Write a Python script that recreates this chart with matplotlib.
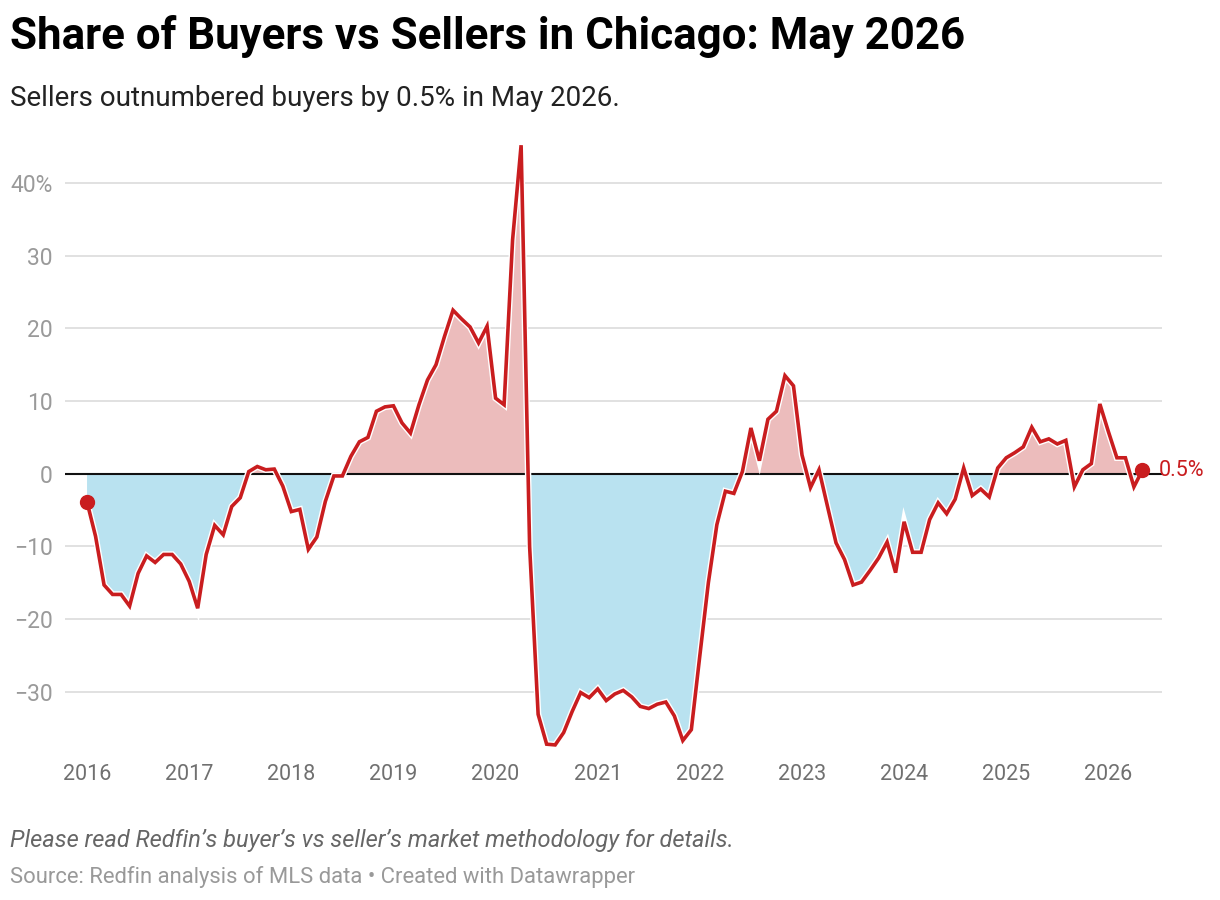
import numpy as np
import matplotlib
matplotlib.use("Agg")
import matplotlib.pyplot as plt
import matplotlib.patheffects as pe

plt.rcParams['font.family'] = ['Roboto', 'DejaVu Sans']

# monthly share, Jan 2016 .. May 2026 (positive = sellers outnumber buyers)
y2016 = [-3.9, -8.6, -15.3, -16.6, -16.6, -18.2, -13.7, -11.3, -12.2, -11.1, -11.1, -12.4]
y2017 = [-14.8, -18.5, -11.1, -7.1, -8.4, -4.5, -3.3, 0.3, 1.0, 0.55, 0.65, -1.7]
y2018 = [-5.2, -4.9, -10.4, -8.7, -3.8, -0.3, -0.3, 2.4, 4.4, 5.0, 8.6, 9.2]
y2019 = [9.35, 7.0, 5.6, 9.5, 12.9, 15.0, 18.9, 22.5, 21.3, 20.2, 18.0, 20.3]
y2020 = [10.4, 9.5, 32.2, 45.2, -10.0, -33.1, -37.2, -37.3, -35.6, -32.7, -30.1, -30.8]
y2021 = [-29.6, -31.2, -30.3, -29.8, -30.7, -32.0, -32.3, -31.7, -31.4, -33.3, -36.7, -35.2]
y2022 = [-25.0, -15.0, -7.0, -2.4, -2.7, 0.3, 6.3, 1.8, 7.5, 8.6, 13.5, 12.1]
y2023 = [2.6, -1.9, 0.55, -4.5, -9.5, -11.8, -15.3, -14.9, -13.3, -11.6, -9.4, -13.6]
y2024 = [-6.6, -10.8, -10.8, -6.3, -4.0, -5.5, -3.5, 0.8, -3.0, -2.1, -3.2, 0.8]
y2025 = [2.2, 2.9, 3.7, 6.4, 4.4, 4.8, 4.1, 4.6, -1.8, 0.55, 1.4, 9.6]
y2026 = [5.8, 2.2, 2.2, -1.8, 0.5]

values = np.array(y2016 + y2017 + y2018 + y2019 + y2020 + y2021 +
                  y2022 + y2023 + y2024 + y2025 + y2026)
months = np.arange(len(values))

years = list(range(2016, 2027))
yticks = [-30, -20, -10, 0, 10, 20, 30, 40]
ylabels = ['\u221230', '\u221220', '\u221210', '0', '10', '20', '30', '40%']

red = '#c91d1f'
fig = plt.figure(figsize=(12.2, 9), dpi=100)
ax = fig.add_axes([65/1220, 1 - 750/900, (1162-65)/1220, (750-139.4)/900])

ax.fill_between(months, values, 0, where=values >= 0, interpolate=True,
                color='#ecbcbc', lw=0)
ax.fill_between(months, values, 0, where=values <= 0, interpolate=True,
                color='#b9e2f0', lw=0)
for yt in yticks:
    if yt != 0:
        ax.axhline(yt, color='#dedede', lw=1.3, zorder=0.5)
ax.axhline(0, color='#111111', lw=1.5, zorder=2)
ax.plot(months, values, color=red, lw=2.6, zorder=3, solid_joinstyle='miter',
        path_effects=[pe.Stroke(linewidth=4.6, foreground='white'), pe.Normal()])
ax.plot([months[0], months[-1]], [values[0], values[-1]], 'o', color=red,
        ms=10, zorder=4)
ax.text(months[-1] + 1.9, values[-1], '0.5%', color=red, fontsize=15.5,
        va='center', ha='left')

ax.set_xlim(-2.59, 126.3)
ax.set_ylim(-38, 46)
ax.set_xticks([12 * i for i in range(len(years))])
ax.set_xticklabels([str(y) for y in years])
ax.set_yticks(yticks)
ax.set_yticklabels(ylabels)
ax.tick_params(axis='x', length=0, pad=10, labelsize=15.5, labelcolor='#707070')
ax.tick_params(axis='y', length=0, pad=9, labelsize=16.5, labelcolor='#9a9a9a')
for s in ax.spines.values():
    s.set_visible(False)

fig.text(10/1220, 1 - 36/900, 'Share of Buyers vs Sellers in Chicago: May 2026',
         fontsize=31.6, fontweight='bold', va='center', ha='left', color='#000000')
fig.text(10/1220, 1 - 98/900, 'Sellers outnumbered buyers by 0.5% in May 2026.',
         fontsize=20, va='center', ha='left', color='#222222')
fig.text(10/1220, 1 - 840/900,
         'Please read Redfin\u2019s buyer\u2019s vs seller\u2019s market methodology for details.',
         fontsize=17, style='italic', va='center', ha='left', color='#666666')
fig.text(10/1220, 1 - 877/900,
         'Source: Redfin analysis of MLS data \u2022 Created with Datawrapper',
         fontsize=15.8, va='center', ha='left', color='#999999')

fig.savefig('out.png', dpi=100)
